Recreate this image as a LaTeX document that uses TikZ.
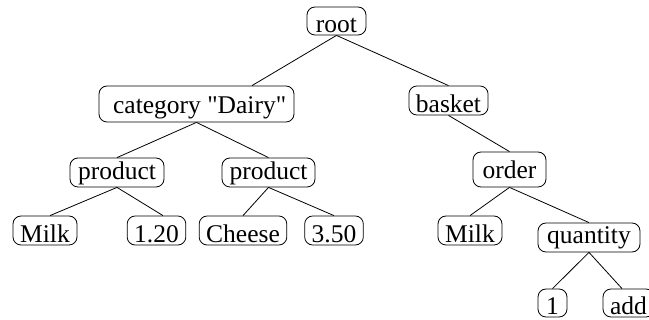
\documentclass[tikz,border=0pt]{standalone}
\usepackage{fontspec}
\setmainfont{Liberation Serif}
\newcommand\bt[2]{\vbox to #1pt{\vfil\hbox{#2}\kern0pt}}
\newcommand\ct[2]{\vbox to #1pt{\vfil\hbox{#2}\vfil}}
\begin{document}
\begin{tikzpicture}[x=1pt,y=-1pt,font=\fontsize{25.5pt}{30pt}\selectfont,
  tn/.style={draw,rounded corners=8pt,line width=0.8pt,inner xsep=7pt,inner ysep=2.5pt,anchor=center},
  ln/.style={line width=0.8pt}]
\useasboundingbox (0,0) rectangle (649,320);
\node[tn,minimum width=59pt] (root) at (336.5,21) {\bt{23}{root}};
\node[tn,minimum width=195pt] (cat) at (196.5,104) {\bt{31}{\ category \textquotedbl Dairy\textquotedbl}};
\node[tn,minimum width=79pt] (basket) at (448.5,100.5) {\bt{24}{basket}};
\node[tn,minimum width=94pt] (prodA) at (117,172.5) {\bt{24}{product}};
\node[tn,minimum width=93pt] (prodB) at (268.5,172.5) {\bt{24}{product}};
\node[tn,minimum width=73pt] (order) at (509.5,169.5) {\ct{30}{order}};
\node[tn,minimum width=64pt] (milkA) at (45,230.5) {\bt{24}{Milk}};
\node[tn,minimum width=57pt] (priceA) at (156.5,230.5) {\bt{24}{1.20}};
\node[tn,minimum width=86pt] (cheese) at (243,230.5) {\bt{24}{Cheese}};
\node[tn,minimum width=54pt] (priceB) at (334,230.5) {\bt{24}{3.50}};
\node[tn,minimum width=64pt] (milkB) at (470,230.5) {\bt{24}{Milk}};
\node[tn,minimum width=102pt] (qty) at (589,237.5) {\bt{24}{quantity}};
\node[tn,minimum width=29pt] (one) at (552.5,303) {\bt{23}{1}};
\node[tn,minimum width=51pt] (add) at (628.5,303) {\bt{23}{add}};
\draw[ln] (root.south) -- ([xshift=55.5pt]cat.north);
\draw[ln] (root.south) -- (basket.north);
\draw[ln] (cat.south) -- (prodA.north);
\draw[ln] (cat.south) -- (prodB.north);
\draw[ln] (basket.south) -- (order.north);
\draw[ln] (prodA.south) -- ([xshift=5pt]milkA.north);
\draw[ln] (prodA.south) -- ([xshift=6.5pt]priceA.north);
\draw[ln] (prodB.south) -- (cheese.north);
\draw[ln] (prodB.south) -- (priceB.north);
\draw[ln] (order.south) -- (milkB.north);
\draw[ln] (order.south) -- (qty.north);
\draw[ln] (qty.south) -- (one.north);
\draw[ln] (qty.south) -- ([xshift=-6.5pt]add.north);
\end{tikzpicture}
\end{document}
